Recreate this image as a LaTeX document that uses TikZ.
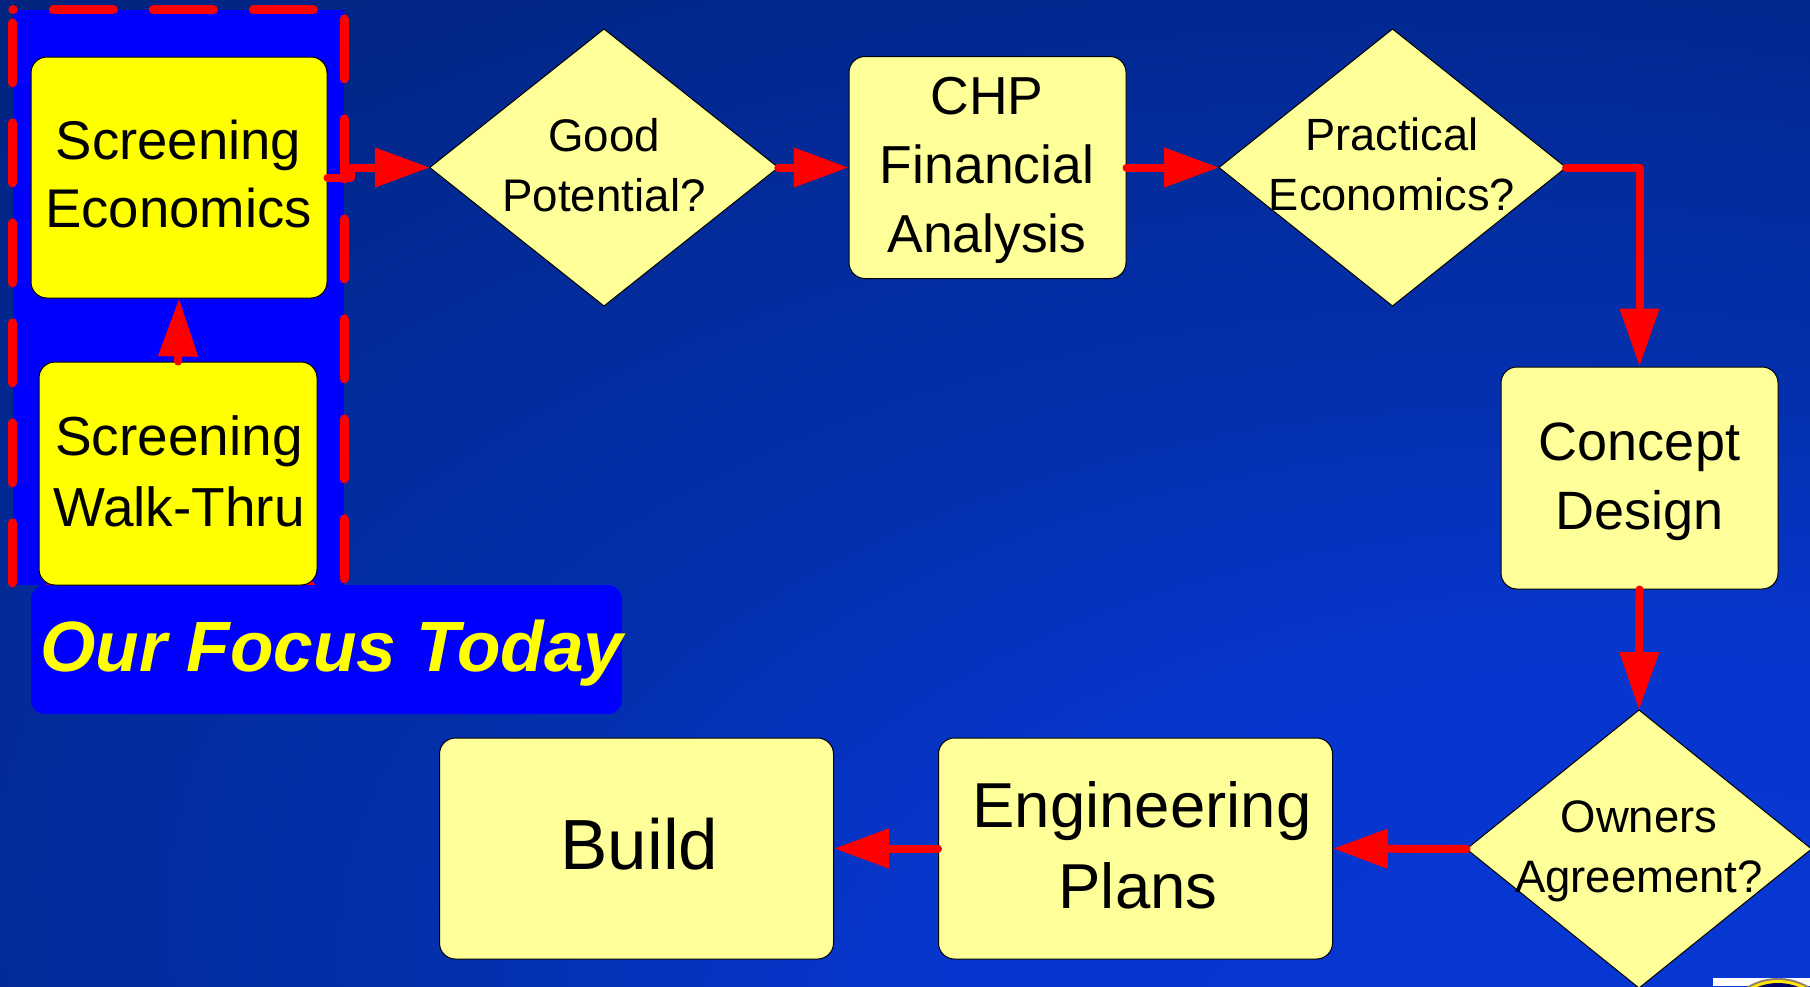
\documentclass[tikz,border=0pt]{standalone}
\usepackage{fontspec}
\setmainfont{Liberation Sans}
\usetikzlibrary{shapes.geometric,arrows.meta,calc}
\definecolor{paleY}{HTML}{FFFF99}
\definecolor{pureY}{HTML}{FFFF00}
\definecolor{pureB}{HTML}{0000FF}
\definecolor{pureR}{HTML}{FF0000}
\definecolor{bgA}{HTML}{0838DA}
\definecolor{bgB}{HTML}{0636CC}
\definecolor{bgC}{HTML}{0430AE}
\definecolor{bgD}{HTML}{01237C}
\definecolor{bgE}{HTML}{001A6A}
\pgfdeclareradialshading{bgglow}{\pgfpoint{30bp}{-41bp}}{
  color(0bp)=(bgA);
  color(22bp)=(bgB);
  color(30bp)=(bgC);
  color(52bp)=(bgD);
  color(75bp)=(bgE)}
% shift a block of lines by dx, dy without changing the size of its node
\newcommand{\nudged}[3]{\kern#1\raisebox{-#2}[\height][\depth]{\begin{tabular}{@{}c@{}}#3\end{tabular}}\kern-#1}
\tikzset{
  x=1pt,y=-1pt,
  flowbox/.style={rectangle,rounded corners=16pt,draw=black,line width=1pt,fill=paleY,inner sep=0pt,font=\fontsize{53.5}{69}\selectfont,text=black},
  focusbox/.style={flowbox,fill=pureY},
  bigbox/.style={flowbox,minimum width=394pt,minimum height=221pt},
  decision/.style={diamond,draw=black,line width=1pt,fill=paleY,inner sep=0pt,outer sep=0pt},
  dlabel/.style={align=center,inner sep=0pt,font=\fontsize{45.7}{60}\selectfont,text=black},
  flow/.style={draw=pureR,line width=8pt,line cap=round,line join=round,-{Triangle[length=55pt,width=38pt,fill=pureR]}},
  vflow/.style={draw=pureR,line width=8pt,line cap=round,line join=round,-{Triangle[length=58pt,width=38pt,fill=pureR]}}
}
\begin{document}
\begin{tikzpicture}
\useasboundingbox (0,0) rectangle (1810,986);
\clip (0,0) rectangle (1810,986);
\path[shading=bgglow] (0,0) rectangle (1810,986);
% focus panel
\node[fill=pureB,inner sep=0pt,minimum width=331pt,minimum height=575pt] (panel) at (178.5,297.5) {};
\draw[pureR,line width=9pt,line cap=round,dash pattern=on 60pt off 40pt,dash phase=59.5pt]
  (panel.north west) -- (panel.north east) -- (panel.south east) -- (panel.south west) -- cycle;
\node[fill=pureB,rounded corners=14pt,inner sep=0pt,minimum width=591pt,minimum height=129pt] (focus) at (326.5,649.5) {};
\node[text=pureY,inner sep=0pt,font=\fontsize{71.2}{80}\selectfont\bfseries\itshape] (focustext) at (332,653) {Our Focus Today};
% boxes
\node[focusbox,minimum width=296pt,minimum height=241pt,font=\fontsize{54.5}{68}\selectfont] (econ) at (179,177.5) {\nudged{-0.5pt}{2pt}{Screening\\Economics}};
\node[focusbox,minimum width=278pt,minimum height=223pt,font=\fontsize{55}{71}\selectfont] (walk) at (178,473.5) {\nudged{1pt}{3pt}{Screening\\Walk-Thru}};
\node[flowbox,minimum width=277pt,minimum height=222pt] (chp) at (987.5,167.5) {\nudged{-0.5pt}{2pt}{CHP\\Financial\\Analysis}};
\node[flowbox,minimum width=277pt,minimum height=222pt,font=\fontsize{54}{69}\selectfont] (concept) at (1639.5,478) {\nudged{0pt}{3.5pt}{Concept\\Design}};
\node[bigbox,font=\fontsize{63.5}{81}\selectfont] (eng) at (1135.5,848.5) {\nudged{2.5pt}{3.5pt}{\kern8pt Engineering\\Plans}};
\node[bigbox,font=\fontsize{71}{81}\selectfont] (build) at (636.5,848.5) {\nudged{3pt}{4.5pt}{Build}};
% decisions
\node[decision,minimum width=348.5pt,minimum height=277pt] (good) at (604,167.5) {};
\node[dlabel] (goodt) at (604,165) {Good\\Potential?};
\node[decision,minimum width=347pt,minimum height=277pt] (prac) at (1392.5,167.5) {};
\node[dlabel,font=\fontsize{45.2}{60}\selectfont] (pract) at (1392,164) {Practical\\Economics?};
\node[decision,minimum width=345pt,minimum height=278pt] (own) at (1639,849) {};
\node[dlabel,font=\fontsize{45.5}{60}\selectfont] (ownt) at (1639,851.5) {Owners\\Agreement?};
% connectors
\coordinate (b1) at (351,177.5);
\draw[flow] (econ.east) -- (b1) -- (b1 |- good.west) -- (good.west);
\draw[vflow] (walk.north) -- (econ.south);
\draw[flow] (good.east) -- (chp.west);
\draw[flow] (chp.east) -- (prac.west);
\draw[vflow] (prac.east) -- (concept.north |- prac.east) -- (concept.north);
\draw[vflow] (concept.south) -- (own.north);
\draw[flow] (own.west) -- (eng.east);
\draw[flow] (eng.west) -- (build.east);
% corner fragment
\fill[white] (1713,978) rectangle (1810,986);
\fill[gray!70!brown] (1778,1038) circle (60);
\fill[pureY!80!orange] (1778,1038) circle (58);
\fill[black!60!pureB] (1778,1038) circle (55);
\end{tikzpicture}
\end{document}
